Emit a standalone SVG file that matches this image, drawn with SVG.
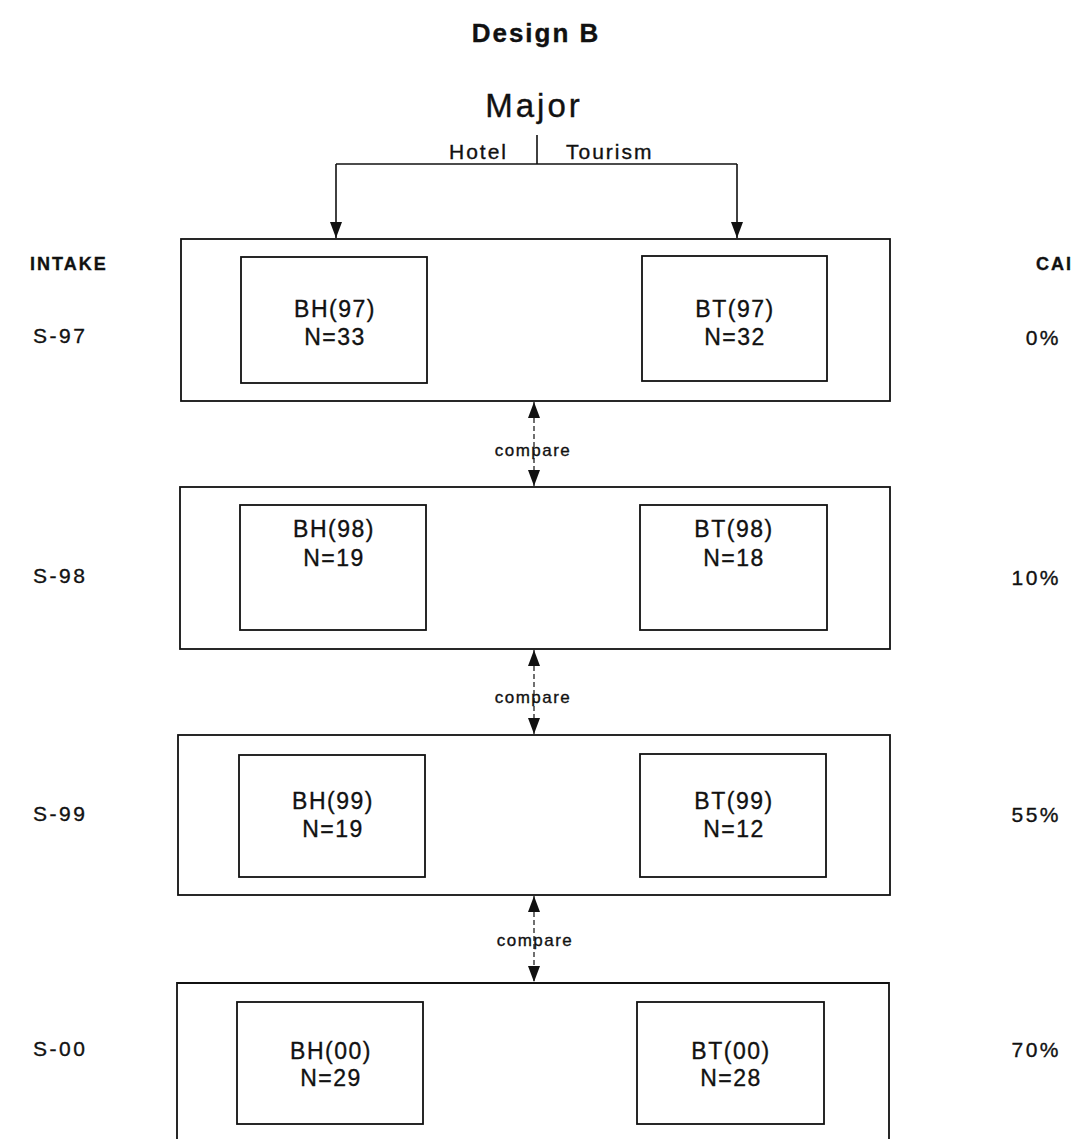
<svg xmlns="http://www.w3.org/2000/svg" width="1072" height="1139" viewBox="0 0 1072 1139">
  <style>
    text { font-family: "Liberation Sans", Arial, sans-serif; fill: #111; stroke: #111; stroke-width: 0.35; }
    .title { font-size: 26px; font-weight: bold; letter-spacing: 2px; text-anchor: middle; }
    .major { font-size: 33px; letter-spacing: 3px; text-anchor: middle; }
    .branch { font-size: 21px; letter-spacing: 2px; }
    .head { font-size: 18px; font-weight: bold; letter-spacing: 2px; }
    .row { font-size: 21px; letter-spacing: 2.5px; }
    .pct { font-size: 21px; letter-spacing: 2.5px; text-anchor: end; }
    .cell { font-size: 23px; letter-spacing: 1.5px; text-anchor: middle; }
    .cmp { font-size: 17px; letter-spacing: 1.5px; text-anchor: middle; }
    .frame { fill: none; stroke: #111; stroke-width: 1.8; }
    .inner { fill: #fff; stroke: #111; stroke-width: 1.8; }
    .wire { fill: none; stroke: #111; stroke-width: 1.6; }
    .dash { fill: none; stroke: #111; stroke-width: 1.2; stroke-dasharray: 5 3; }
  </style>
  <defs>
    <marker id="head" viewBox="0 0 16 12" refX="16" refY="6" markerWidth="16" markerHeight="12" markerUnits="userSpaceOnUse" orient="auto-start-reverse">
      <path d="M0,0 L16,6 L0,12 Z" fill="#111"/>
    </marker>
  </defs>

  <rect width="1072" height="1139" fill="#fff"/>

  <text class="title" x="536" y="42">Design B</text>
  <text class="major" x="534" y="117">Major</text>
  <text class="branch" x="449" y="159">Hotel</text>
  <text class="branch" x="566" y="159">Tourism</text>

  <!-- side headings -->
  <g id="labels">
    <text class="head" x="30" y="270">INTAKE</text>
    <text class="head" x="1073" y="270" text-anchor="end">CAI</text>
    <text class="row" x="33" y="343">S-97</text>
    <text class="row" x="33" y="583">S-98</text>
    <text class="row" x="33" y="821">S-99</text>
    <text class="row" x="33" y="1056">S-00</text>
    <text class="pct" x="1061" y="345">0%</text>
    <text class="pct" x="1061" y="585">10%</text>
    <text class="pct" x="1061" y="822">55%</text>
    <text class="pct" x="1061" y="1057">70%</text>
  </g>

  <!-- semester groups -->
  <g id="s97">
    <rect class="frame" x="181" y="239" width="709" height="162"/>
    <g id="bh97">
      <rect class="inner" x="241" y="257" width="186" height="126"/>
      <text class="cell" x="335" y="317">BH(97)</text>
      <text class="cell" x="335" y="345">N=33</text>
    </g>
    <g id="bt97">
      <rect class="inner" x="642" y="256" width="185" height="125"/>
      <text class="cell" x="735" y="317">BT(97)</text>
      <text class="cell" x="735" y="345">N=32</text>
    </g>
  </g>

  <g id="s98">
    <rect class="frame" x="180" y="487" width="710" height="162"/>
    <g id="bh98">
      <rect class="inner" x="240" y="505" width="186" height="125"/>
      <text class="cell" x="334" y="537">BH(98)</text>
      <text class="cell" x="334" y="566">N=19</text>
    </g>
    <g id="bt98">
      <rect class="inner" x="640" y="505" width="187" height="125"/>
      <text class="cell" x="734" y="537">BT(98)</text>
      <text class="cell" x="734" y="566">N=18</text>
    </g>
  </g>

  <g id="s99">
    <rect class="frame" x="178" y="735" width="712" height="160"/>
    <g id="bh99">
      <rect class="inner" x="239" y="755" width="186" height="122"/>
      <text class="cell" x="333" y="809">BH(99)</text>
      <text class="cell" x="333" y="837">N=19</text>
    </g>
    <g id="bt99">
      <rect class="inner" x="640" y="754" width="186" height="123"/>
      <text class="cell" x="734" y="809">BT(99)</text>
      <text class="cell" x="734" y="837">N=12</text>
    </g>
  </g>

  <g id="s00">
    <path class="frame" d="M177,1145 V983 H889 V1145"/>
    <g id="bh00">
      <rect class="inner" x="237" y="1002" width="186" height="122"/>
      <text class="cell" x="331" y="1059">BH(00)</text>
      <text class="cell" x="331" y="1086">N=29</text>
    </g>
    <g id="bt00">
      <rect class="inner" x="637" y="1002" width="187" height="122"/>
      <text class="cell" x="731" y="1059">BT(00)</text>
      <text class="cell" x="731" y="1086">N=28</text>
    </g>
  </g>

  <!-- connectors -->
  <g id="connectors">
    <path class="wire" d="M537,135 V164"/>
    <path class="wire" d="M336,164 H737"/>
    <path class="wire" d="M336,164 V238" marker-end="url(#head)"/>
    <path class="wire" d="M737,164 V238" marker-end="url(#head)"/>

    <path class="dash" d="M534,402 V486" marker-start="url(#head)" marker-end="url(#head)"/>
    <path class="dash" d="M534,650 V734" marker-start="url(#head)" marker-end="url(#head)"/>
    <path class="dash" d="M534,896 V982" marker-start="url(#head)" marker-end="url(#head)"/>

    <text class="cmp" x="533" y="456">compare</text>
    <text class="cmp" x="533" y="703">compare</text>
    <text class="cmp" x="535" y="946">compare</text>
  </g>
</svg>
